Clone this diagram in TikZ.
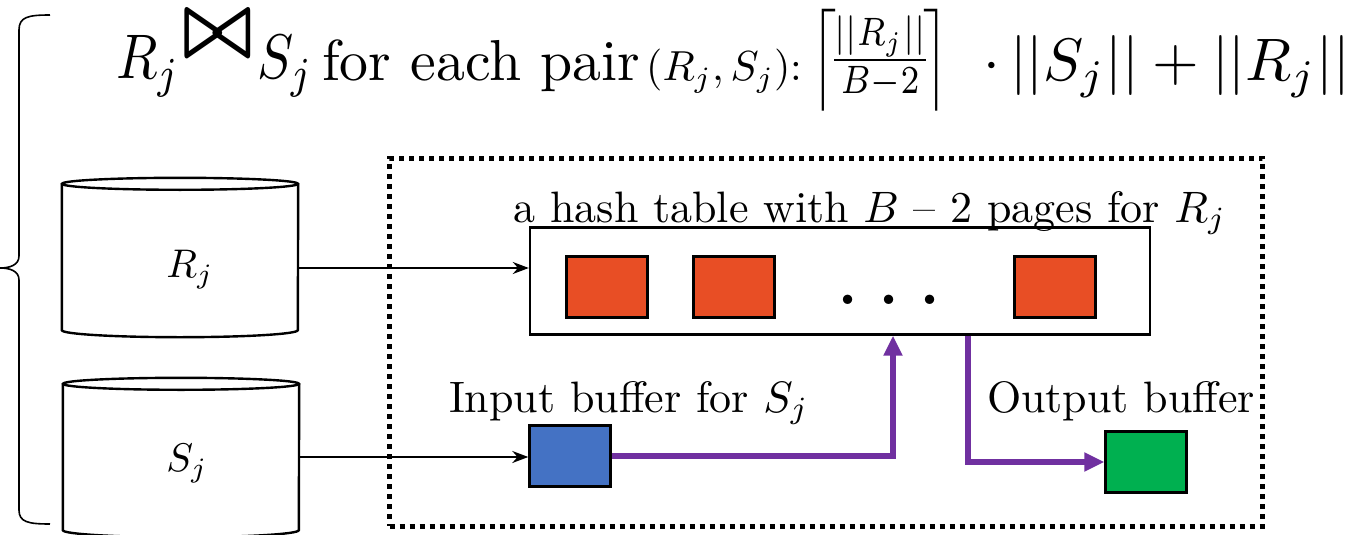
\documentclass[tikz,border=0pt]{standalone}
\usepackage{amsmath,amssymb}
\usetikzlibrary{arrows.meta}
\definecolor{pagered}{HTML}{E84E25}
\definecolor{inblue}{HTML}{4472C4}
\definecolor{outgreen}{HTML}{00B050}
\definecolor{flowpurple}{HTML}{7030A0}
% text is set at 10pt and enlarged, so every glyph keeps its design size
\newcommand{\bigtxt}[2]{\scalebox{#1}{#2}}
\tikzset{
  page/.style={draw=black, line width=2.4pt, minimum width=81, minimum height=61, inner sep=0pt},
  disk/.style={minimum width=236, minimum height=146, inner sep=0pt},
  feed/.style={line width=2pt, -{Stealth[length=16pt,width=12pt]}},
  flow/.style={draw=flowpurple, line width=5.5pt, -{Triangle[length=20pt,width=18pt]}},
  lbl/.style={inner sep=0pt},
}
\begin{document}
\begin{tikzpicture}[x=1pt,y=-1pt]
\useasboundingbox (0,0) rectangle (1358,535);

% left brace grouping the two relations
\draw[line width=1.6pt] (50,15) .. controls (28,15) and (19,17) .. (19,30) -- (19,256)
  .. controls (19,265) and (10,268) .. (0,268)
  .. controls (10,268) and (19,271) .. (19,280) -- (19,510)
  .. controls (19,522) and (28,524) .. (50,524);

% cost formula: the join, then its cost
\node[lbl, anchor=base west] (jr) at (116,79) {\scalebox{5.4}[6.3]{$R_j$}};
\node[lbl, anchor=south west] (join) at (182,56) {\resizebox*{71pt}{42pt}{$\boldsymbol{\bowtie}$}};
\node[lbl, anchor=base west] (js) at (257,79) {\scalebox{5.4}[6.3]{$S_j$}};
\node[lbl, anchor=base west] (each) at (322,81) {\resizebox{318pt}{!}{for each pair}};
\node[lbl, anchor=base west] (pair) at (646,81) {\resizebox{156pt}{!}{$(R_j,S_j)$:}};
\node[lbl] (frac) at (880,60)
  {\resizebox*{137pt}{102pt}{$\left\lceil\!\frac{||R_j||}{B-2}\!\right\rceil$}};
\node[lbl, anchor=base east] (sum) at (1350,81) {\resizebox{366pt}{!}{$\cdot\,||S_j||+||R_j||$}};

% the two relations on disk
\node[disk] (rj) at (180,257) {};
\node[disk] (sj) at (181,457) {};
\node[lbl, anchor=base] (rjl) at (190,277) {\bigtxt{4}{$R_j$}};
\node[lbl, anchor=base] (sjl) at (187,471) {\bigtxt{4}{$S_j$}};
\foreach \d in {rj,sj}{
  \draw[line width=2.4pt] (\d.north west) -- (\d.south west)
    arc[start angle=180, end angle=0, x radius=118, y radius=7] -- (\d.north east);
  \draw[line width=2.4pt] (\d.north) ellipse[x radius=118, y radius=6];
}

% main memory
\node[draw, line width=5pt, dash pattern=on 5pt off 5pt, minimum width=873, minimum height=368, inner sep=0pt] (mem) at (826,342) {};

% hash table
\node[lbl, anchor=base] (htlbl) at (870,222) {\bigtxt{4.4}{a hash table with $B$ -- 2 pages for $R_j$}};
\node[draw, line width=2.4pt, minimum width=620, minimum height=107, inner sep=0pt] (ht) at (840,281) {};
\node[page, fill=pagered] (p1) at (607,287) {};
\node[page, fill=pagered] (p2) at (734,287) {};
\node[page, fill=pagered] (p3) at (1055,287) {};
\node[lbl, anchor=base] (dots) at (889,304) {\bigtxt{6}{\bfseries .\hspace{3.6pt}.\hspace{3.6pt}.}};

% input and output buffers
\node[page, fill=inblue] (inb) at (570,456) {};
\node[lbl, anchor=base] (inlbl) at (629,412) {\bigtxt{4.4}{Input buffer for $S_j$}};
\node[page, fill=outgreen] (outb) at (1146,462) {};
\node[lbl, anchor=base] (outlbl) at (1121,412) {\bigtxt{4.4}{Output buffer}};

% reading from disk
\draw[feed] ([yshift=-11pt]rj.east) -- ([yshift=-11pt]rj.east -| ht.west);
\draw[feed] (sj.east) -- (sj.east -| inb.west);

% probing and output
\coordinate (probe) at (893,0);
\coordinate (emit) at (968,0);
\draw[flow] (inb.east) -| (probe |- ht.south);
\draw[flow] (emit |- ht.south) |- (outb.west);
\end{tikzpicture}
\end{document}
